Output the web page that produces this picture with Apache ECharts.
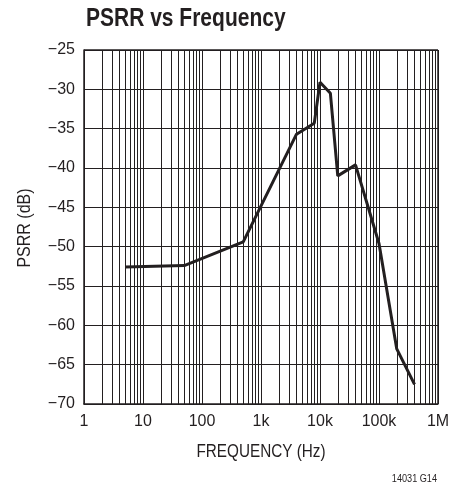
<!DOCTYPE html>
<html>
<head>
<meta charset="utf-8">
<script src="https://cdn.jsdelivr.net/npm/echarts@6/dist/echarts.min.js"></script>
<style>html,body{margin:0;padding:0;background:#fff}#c{width:468px;height:489px}</style>
</head>
<body>
<div id="c"></div>
<script>
const freqHz = [5, 50, 500, 4000, 8000, 10000, 15000, 20000, 40000, 100000, 200000, 400000];
const psrrDb = [-52.6, -52.4, -49.4, -35.7, -34.3, -29.1, -30.5, -41.0, -39.6, -49.6, -63.0, -67.5];
const yTicks = [-70, -65, -60, -55, -50, -45, -40, -35, -30, -25];
const xTickLabels = {1: '1', 10: '10', 100: '100', 1000: '1k', 10000: '10k', 100000: '100k', 1000000: '1M'};
const minorMultipliers = [2, 3, 4, 5, 6, 7, 8, 9];
const decades = [1, 10, 100, 1000, 10000, 100000];

const minorLines = [];
decades.forEach(d => minorMultipliers.forEach(m => minorLines.push({xAxis: d * m})));

const FONT = '"Liberation Sans", Arial, sans-serif';
const INK = '#231f20';
const chart = echarts.init(document.getElementById('c'), null, {renderer: 'canvas'});
chart.setOption({
  animation: false,
  backgroundColor: '#fff',
  graphic: [
    {type: 'text', x: 86, y: 19, scaleX: 0.84, silent: true,
     style: {text: 'PSRR vs Frequency', fontFamily: FONT, fontWeight: 'bold', fontSize: 25,
             fill: INK, align: 'left', verticalAlign: 'middle'}},
    {type: 'text', x: 261, y: 452, scaleX: 0.85, silent: true,
     style: {text: 'FREQUENCY (Hz)', fontFamily: FONT, fontSize: 18,
             fill: INK, align: 'center', verticalAlign: 'middle'}},
    {type: 'text', x: 25, y: 228, rotation: Math.PI / 2, scaleX: 0.89, silent: true,
     style: {text: 'PSRR (dB)', fontFamily: FONT, fontSize: 18,
             fill: INK, align: 'center', verticalAlign: 'middle'}},
    {type: 'text', x: 437, y: 479, scaleX: 0.83, silent: true,
     style: {text: '14031 G14', fontFamily: FONT, fontSize: 11,
             fill: INK, align: 'right', verticalAlign: 'middle'}}
  ],
  grid: {left: 84, right: 30, top: 50, bottom: 85, show: false},
  xAxis: {
    type: 'log', logBase: 10, min: 1, max: 1000000,
    axisLine: {show: true, lineStyle: {color: INK, width: 1.5}},
    axisTick: {show: false},
    axisLabel: {fontFamily: FONT, fontSize: 16, color: INK, margin: 10,
      formatter: v => xTickLabels[Math.round(v)] || ''},
    splitLine: {show: true, lineStyle: {color: INK, width: 1}},
    minorTick: {show: false}, minorSplitLine: {show: false}
  },
  yAxis: {
    type: 'value', min: -70, max: -25, interval: 5,
    axisLine: {show: true, lineStyle: {color: INK, width: 1.5}},
    axisTick: {show: false},
    axisLabel: {fontFamily: FONT, fontSize: 16, color: INK, margin: 9,
      formatter: v => yTicks.includes(v) ? String(v).replace('-', '\u2212') : ''},
    splitLine: {show: true, lineStyle: {color: INK, width: 1}}
  },
  series: [
    {
      type: 'line', data: [], silent: true,
      markLine: {silent: true, symbol: 'none', label: {show: false},
        lineStyle: {color: INK, width: 1, type: 'solid'}, data: minorLines}
    },
    {
      type: 'line', data: [], silent: true,
      markLine: {silent: true, symbol: 'none', label: {show: false},
        lineStyle: {color: INK, width: 1.5, type: 'solid'},
        data: [{xAxis: 1000000}, {yAxis: -25}]}
    },
    {
      type: 'line', symbol: 'none', silent: true,
      data: freqHz.map((f, i) => [f, psrrDb[i]]),
      lineStyle: {color: INK, width: 3}, z: 5
    }
  ]
});
</script>
</body>
</html>
